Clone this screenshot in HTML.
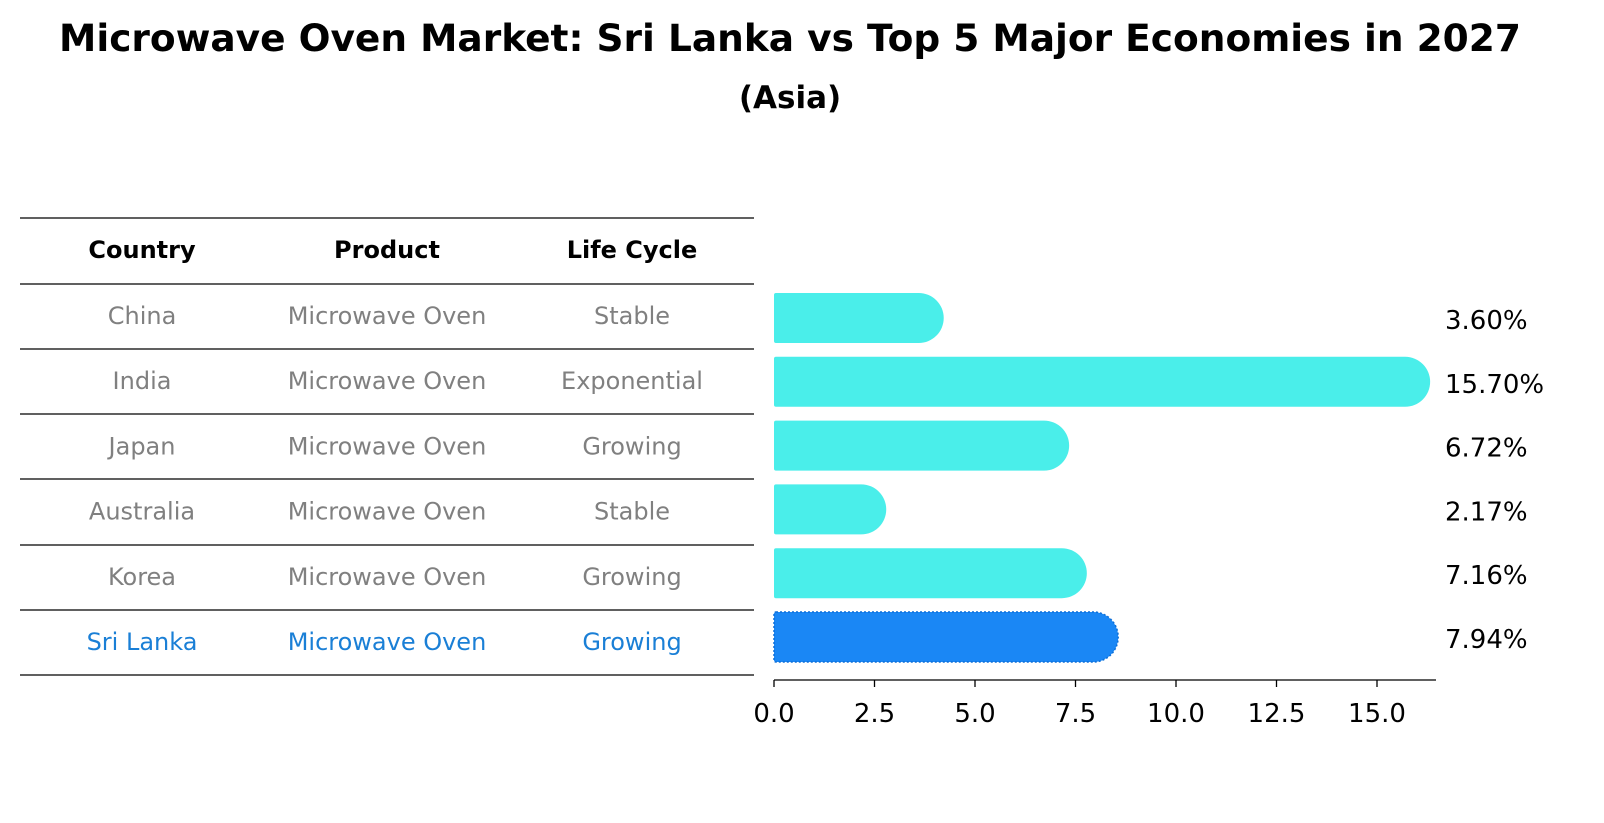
<!DOCTYPE html>
<html><head><meta charset="utf-8"><style>
body{margin:0;background:#fff;}
svg{display:block;font-family:"DejaVu Sans","Liberation Sans",sans-serif;}
</style></head><body>
<svg id="chart" width="1604" height="823" viewBox="0 0 1604 823">
<text x="790" y="51" text-anchor="middle" font-size="37.5" font-weight="bold">Microwave Oven Market: Sri Lanka vs Top 5 Major Economies in 2027</text>
<text x="790" y="108" text-anchor="middle" font-size="31" font-weight="bold">(Asia)</text>
<g id="table"></g>
<g id="bars"></g>
<g id="axis"></g>
</svg>
<script>
const countries=["China","India","Japan","Australia","Korea","Sri Lanka"];
const lifeCycles=["Stable","Exponential","Growing","Stable","Growing","Growing"];
const values=[3.60,15.70,6.72,2.17,7.16,7.94];
const valueLabels=["3.60%","15.70%","6.72%","2.17%","7.16%","7.94%"];
const ticks=[0,2.5,5,7.5,10,12.5,15];
const tickLabels=["0.0","2.5","5.0","7.5","10.0","12.5","15.0"];
const NS="http://www.w3.org/2000/svg";
const x0=774, pxPer=(1377-774)/15;
const xs=v=>x0+v*pxPer;
const yc=i=>318+i*63.8;
function mk(tag,attrs,parent,txt){const e=document.createElementNS(NS,tag);for(const k in attrs)e.setAttribute(k,attrs[k]);if(txt!==undefined)e.textContent=txt;parent.appendChild(e);return e;}
const tbl=document.getElementById('table');
const colX=[142,387,632];
["Country","Product","Life Cycle"].forEach((h,j)=>{
 const t=mk('text',{x:colX[j],y:258,'text-anchor':'middle','font-size':24,'font-weight':'bold'},tbl,h);
 
 
});
const lineYs=[218,284,349,414,479,545,610,675];
lineYs.forEach(y=>{
 const l=mk('line',{x1:20,x2:754,y1:y,y2:y,stroke:'#000','stroke-width':1.2},tbl);
 
 
});
countries.forEach((c,i)=>{
 const col=i===5?'#1a7fd6':'#808080';
 const y=324+i*65.2;
 [c,"Microwave Oven",lifeCycles[i]].forEach((txt,j)=>{
  const t=mk('text',{x:colX[j],y:y,'text-anchor':'middle','font-size':24,fill:col},tbl,txt);
  
  
 });
});
const bars=document.getElementById('bars');
const h=50,r=25;
values.forEach((v,i)=>{
 const xe=xs(v), y=yc(i)-h/2;
 const d=`M${x0+2},${y} L${xe},${y} A${r},${r} 0 0 1 ${xe},${y+h} L${x0+2},${y+h} Q${x0},${y+h} ${x0},${y+h-2} L${x0},${y+2} Q${x0},${y} ${x0+2},${y} Z`;
 const p=mk('path',{d:d,fill:i===5?'#1a87f5':'#4aeeea'},bars);
 if(i===5){p.setAttribute('stroke','#0d6fd8');p.setAttribute('stroke-dasharray','2 2');p.setAttribute('stroke-width','1.5');}
 
 
 const t=mk('text',{x:1445,y:yc(i)+11,'font-size':26,fill:'#000'},bars,valueLabels[i]);
 
 
});
const ax=document.getElementById('axis');
const al=mk('line',{x1:x0,x2:1436,y1:680,y2:680,stroke:'#000','stroke-width':1.3},ax);


ticks.forEach((tv,i)=>{
 const tk=mk('line',{x1:xs(tv),x2:xs(tv),y1:680,y2:687,stroke:'#000','stroke-width':1.3},ax);
 
 
 const t=mk('text',{x:xs(tv),y:722,'text-anchor':'middle','font-size':26},ax,tickLabels[i]);
 
 
});
</script>
</body></html>
